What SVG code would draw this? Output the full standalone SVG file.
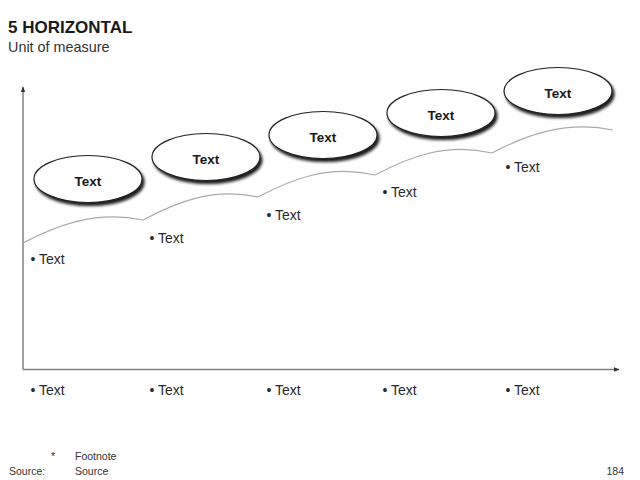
<svg xmlns="http://www.w3.org/2000/svg" width="640" height="480" viewBox="0 0 640 480">
<defs>
<style>
.title{font-family:"Liberation Sans",Arial,sans-serif;font-weight:bold;font-size:17px;fill:#1a1a1a}
.sub{font-family:"Liberation Sans",Arial,sans-serif;font-size:14.4px;fill:#333}
.node{fill:#fff;stroke:#222;stroke-width:1.2}
.nlabel{font-family:"Liberation Sans",Arial,sans-serif;font-weight:bold;font-size:13.5px;fill:#1a1a1a;text-anchor:middle}
.bul{font-family:"Liberation Sans",Arial,sans-serif;font-size:14px;fill:#2a2a2a}
.foot{font-family:"Liberation Sans",Arial,sans-serif;font-size:10.5px;fill:#333}
.axis{stroke:#808080;stroke-width:1.5;fill:none}
.curve{stroke:#aaa;stroke-width:1.2;fill:none}
</style>
<filter id="sh" x="-20%" y="-30%" width="140%" height="170%">
<feGaussianBlur in="SourceAlpha" stdDeviation="1.6"/>
<feOffset dx="1.5" dy="3" result="b"/>
<feComponentTransfer><feFuncA type="linear" slope="0.9"/></feComponentTransfer>
<feMerge><feMergeNode/><feMergeNode in="SourceGraphic"/></feMerge>
</filter>
<marker id="ar" viewBox="0 0 10 10" refX="9" refY="5" markerWidth="4" markerHeight="4" orient="auto" markerUnits="strokeWidth">
<path d="M0,1 L10,5 L0,9 Z" fill="#333"/>
</marker>
</defs>
<rect width="640" height="480" fill="#fff"/>
<text class="title" x="8" y="33">5 HORIZONTAL</text>
<text class="sub" x="8" y="52">Unit of measure</text>

<g id="connectors">
<path class="axis" d="M23,369.5 L23,87" marker-end="url(#ar)"/>
<path class="axis" d="M23,369.5 L619,369.5" marker-end="url(#ar)"/>
<path class="curve" d="M23,243 C55,226 95,210 143,220"/>
<path class="curve" d="M143,220 C175,203 212,187 258,197"/>
<path class="curve" d="M258,197 C290,180 328,164 375,175"/>
<path class="curve" d="M375,175 C407,158 445,142 492,153"/>
<path class="curve" d="M492,153 C524,136 565,120 613,130"/>
</g>

<g id="node1"><ellipse class="node" filter="url(#sh)" cx="88" cy="179" rx="54" ry="23.5"/><text class="nlabel" x="88" y="185.5">Text</text></g>
<g id="node2"><ellipse class="node" filter="url(#sh)" cx="206" cy="157" rx="54" ry="23.5"/><text class="nlabel" x="206" y="163.5">Text</text></g>
<g id="node3"><ellipse class="node" filter="url(#sh)" cx="323" cy="135" rx="54" ry="23.5"/><text class="nlabel" x="323" y="141.5">Text</text></g>
<g id="node4"><ellipse class="node" filter="url(#sh)" cx="441" cy="113" rx="54" ry="23.5"/><text class="nlabel" x="441" y="119.5">Text</text></g>
<g id="node5"><ellipse class="node" filter="url(#sh)" cx="558" cy="91" rx="54" ry="23.5"/><text class="nlabel" x="558" y="97.5">Text</text></g>

<g id="curve-labels">
<text class="bul" x="30.5" y="264">•<tspan x="39">Text</tspan></text>
<text class="bul" x="149.5" y="243">•<tspan x="158">Text</tspan></text>
<text class="bul" x="266.5" y="219.5">•<tspan x="275">Text</tspan></text>
<text class="bul" x="382.5" y="197">•<tspan x="391">Text</tspan></text>
<text class="bul" x="505.5" y="171.5">•<tspan x="514">Text</tspan></text>
</g>

<g id="axis-labels">
<text class="bul" x="30.5" y="395">•<tspan x="39">Text</tspan></text>
<text class="bul" x="149.5" y="395">•<tspan x="158">Text</tspan></text>
<text class="bul" x="266.5" y="395">•<tspan x="275">Text</tspan></text>
<text class="bul" x="382.5" y="395">•<tspan x="391">Text</tspan></text>
<text class="bul" x="505.5" y="395">•<tspan x="514">Text</tspan></text>
</g>

<g id="footer">
<text class="foot" x="51" y="460">*</text>
<text class="foot" x="75" y="460">Footnote</text>
<text class="foot" x="9" y="475">Source:</text>
<text class="foot" x="75" y="475">Source</text>
<text class="foot" x="624" y="475" text-anchor="end">184</text>
</g>
</svg>
